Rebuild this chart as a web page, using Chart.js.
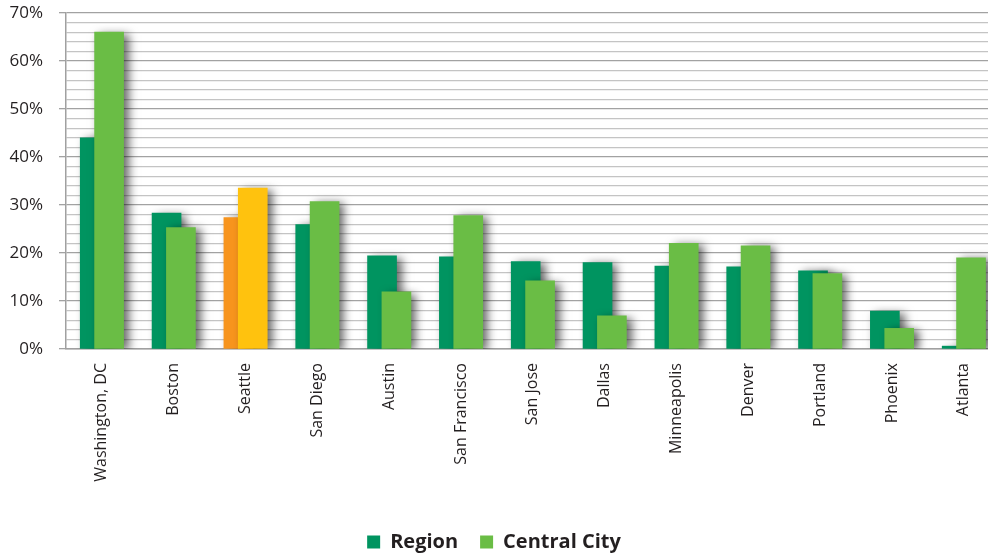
<!DOCTYPE html>
<html>
<head>
<meta charset="utf-8">
<script src="https://cdn.jsdelivr.net/npm/chart.js@4/dist/chart.umd.min.js"></script>
<style>
  html, body { margin: 0; padding: 0; background: #fff; }
  #wrap { width: 988px; height: 556px; position: relative; }
</style>
</head>
<body>
<div id="wrap"><canvas id="chart_bar"></canvas></div>
<script>
// valeurs (en %)
const cities = ["Washington, DC", "Boston", "Seattle", "San Diego", "Austin", "San Francisco",
    "San Jose", "Dallas", "Minneapolis", "Denver", "Portland", "Phoenix", "Atlanta"];
const region = [44, 28.3, 27.4, 25.9, 19.4, 19.2, 18.2, 18.0, 17.3, 17.1, 16.3, 7.9, 0.6];
const central_city = [66, 25.3, 33.5, 30.7, 11.9, 27.8, 14.2, 6.9, 22.0, 21.5, 15.7, 4.3, 19.0];
const y_ticks = [0, 10, 20, 30, 40, 50, 60, 70];

const used_colors = ["#009460", "#6abd45"];
const highlight_colors = ["#f7941d", "#ffc20e"]; // Seattle
const highlight_city = "Seattle";

function bar_colors(base, hl) {
    return cities.map(c => c === highlight_city ? hl : base);
}

// ombre portÃ©e sous les barres
const shadow_plugin = {
    id: 'shadow_plugin',
    beforeDatasetsDraw(chart) {
        const ctx = chart.ctx;
        ctx.save();
        ctx.shadowColor = 'rgba(0,0,0,0.6)';
        ctx.shadowBlur = 9;
        ctx.shadowOffsetX = 5;
        ctx.shadowOffsetY = 2;
    },
    afterDatasetsDraw(chart) {
        chart.ctx.restore();
    }
};

const ctx = document.getElementById('chart_bar').getContext('2d');
const chart = new Chart(ctx, {
    type: 'bar',
    data: {
        datasets: [{
            label: "Region",
            data: region.map((v, i) => ({x: i - 0.1, y: v})),
            backgroundColor: bar_colors(used_colors[0], highlight_colors[0]),
            order: 1
        }, {
            label: "Central City",
            data: central_city.map((v, i) => ({x: i + 0.1, y: v})),
            backgroundColor: bar_colors(used_colors[1], highlight_colors[1]),
            order: 0
        }]
    },
    options: {
        responsive: true,
        maintainAspectRatio: false,
        animation: false,
        layout: {padding: {top: 13, right: 0, left: 0, bottom: -6}},
        datasets: {
            bar: {grouped: false, barThickness: 29, borderWidth: 0}
        },
        scales: {
            x: {
                type: 'linear',
                offset: false,
                min: -0.5,
                max: 12.336,
                afterBuildTicks: (scale) => { scale.ticks = cities.map((c, i) => ({value: i})); },
                afterFit: (scale) => {
                    scale.height = 161;
                    scale.paddingLeft = 0;
                    scale.paddingRight = 0;
                },
                grid: {display: false, drawTicks: false},
                border: {color: '#a0a0a0', width: 1.5},
                ticks: {
                    autoSkip: false,
                    minRotation: 90,
                    maxRotation: 90,
                    padding: 14,
                    color: '#231f20',
                    font: {family: "'Open Sans', sans-serif", size: 16},
                    callback: (v) => cities[v]
                }
            },
            y: {
                min: 0,
                max: 70,
                afterFit: (scale) => {
                    scale.width = 66;
                    scale.paddingTop = 0;
                    scale.paddingBottom = 0;
                },
                afterBuildTicks: (scale) => {
                    const t = [];
                    for (let v = 0; v <= 70; v += 2) t.push({value: v});
                    scale.ticks = t;
                },
                grid: {
                    color: (c) => c.tick && y_ticks.includes(c.tick.value) ? '#a2a2a2' : '#c4c4c4',
                    tickColor: (c) => c.tick && y_ticks.includes(c.tick.value) ? '#a2a2a2' : 'rgba(0,0,0,0)',
                    lineWidth: 1.3,
                    tickLength: 7
                },
                border: {color: '#a0a0a0', width: 1.5},
                ticks: {
                    autoSkip: false,
                    padding: 16,
                    color: '#231f20',
                    font: {family: "'Open Sans', sans-serif", size: 17},
                    callback: (v) => y_ticks.includes(v) ? v + '%' : ''
                }
            }
        },
        plugins: {
            tooltip: {enabled: false},
            legend: {
                position: 'bottom',
                labels: {
                    boxWidth: 13,
                    boxHeight: 13,
                    padding: 22,
                    color: '#231f20',
                    font: {family: "'Open Sans', sans-serif", size: 20, weight: 'bold'},
                    generateLabels: (chart) => chart.data.datasets.map((d, i) => ({
                        text: d.label,
                        fillStyle: used_colors[i],
                        strokeStyle: used_colors[i],
                        lineWidth: 0,
                        fontColor: '#231f20',
                        datasetIndex: i
                    }))
                }
            }
        }
    },
    plugins: [shadow_plugin]
});
</script>
</body>
</html>
